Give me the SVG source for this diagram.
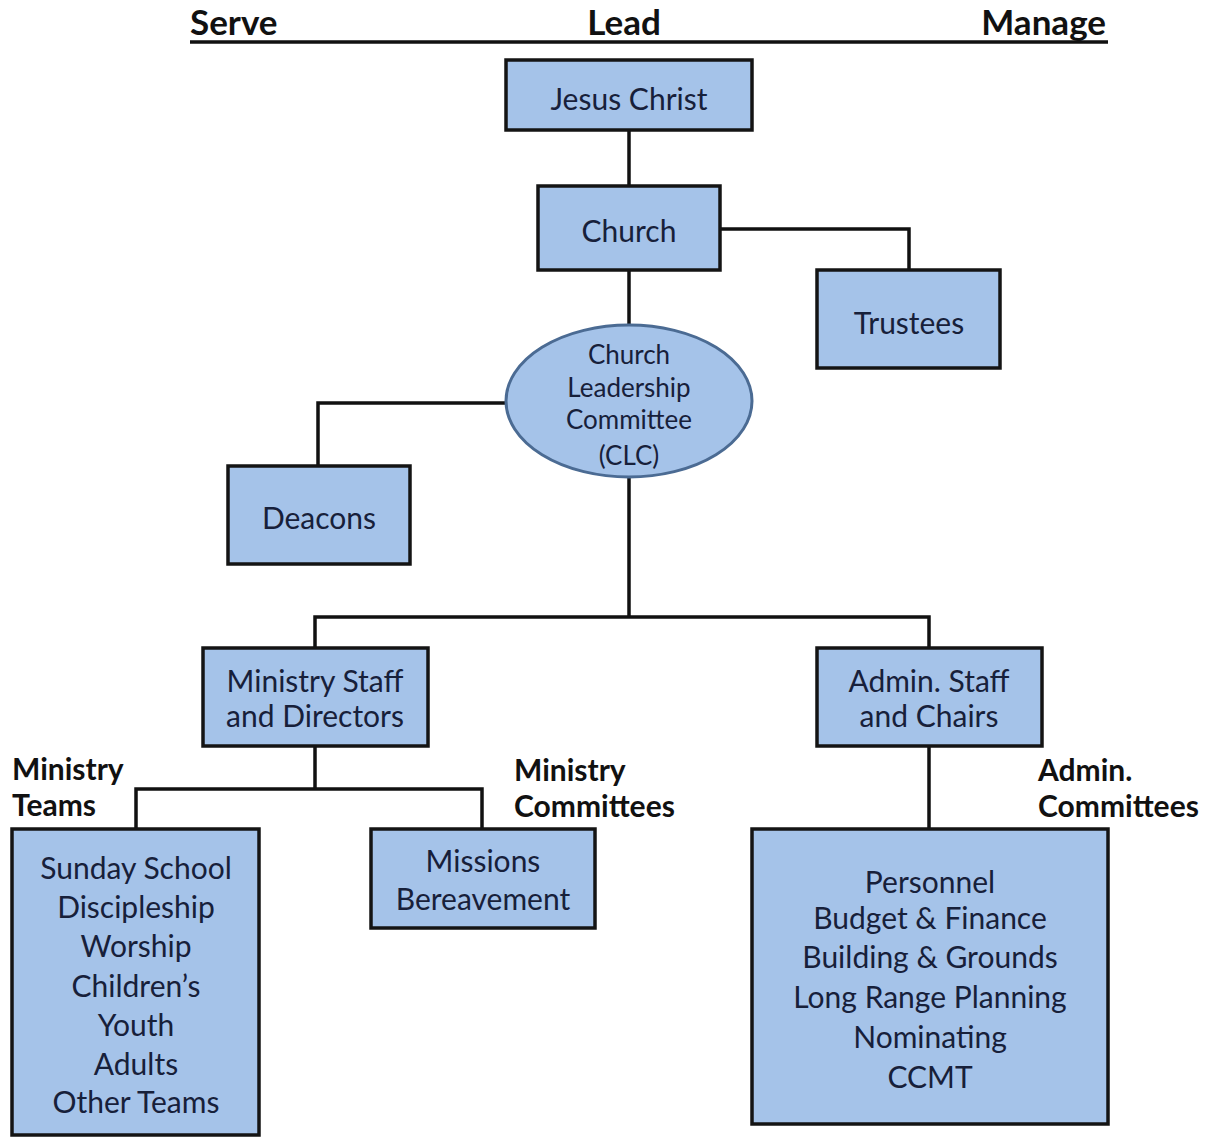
<svg xmlns="http://www.w3.org/2000/svg" width="1211" height="1137" viewBox="0 0 1211 1137">
<style>
.box{fill:#a5c3e9;stroke:#141414;stroke-width:3.5}
.ell{fill:#a5c3e9;stroke:#4b6b93;stroke-width:3}
.t{font-family:Lato,"Open Sans",sans-serif;font-size:30px;fill:#17203a;text-anchor:middle}
.s{font-size:26px}
.h{font-family:Lato,"Open Sans",sans-serif;font-size:35px;font-weight:bold;fill:#111}
.l{font-family:Lato,"Open Sans",sans-serif;font-size:30px;font-weight:bold;fill:#111}
.c{fill:none;stroke:#111;stroke-width:3.5}
</style>
<rect width="1211" height="1137" fill="#fff"/>
<g id="header">
<line x1="190" y1="42" x2="1108" y2="42" stroke="#111" stroke-width="3.5"/>
<text class="h" x="190" y="35">Serve</text>
<text class="h" x="624" y="35" text-anchor="middle">Lead</text>
<text class="h" x="1106" y="35" text-anchor="end">Manage</text>
</g>
<g id="connectors">
<path class="c" d="M629 130V186"/>
<path class="c" d="M720 229H909V270"/>
<path class="c" d="M629 270V325"/>
<path class="c" d="M505 403H318V466"/>
<path class="c" d="M629 478V617M315 648V617H929V648"/>
<path class="c" d="M315 746V789M136 829V789H482V829"/>
<path class="c" d="M929 746V829"/>
</g>
<g id="jesus"><rect class="box" x="506" y="60" width="246" height="70"/><text class="t" x="629" y="110">Jesus Christ</text></g>
<g id="church"><rect class="box" x="538" y="186" width="182" height="84"/><text class="t" x="629" y="242">Church</text></g>
<g id="trustees"><rect class="box" x="817" y="270" width="183" height="98"/><text class="t" x="909" y="334">Trustees</text></g>
<g id="clc"><ellipse class="ell" cx="629" cy="401" rx="123" ry="76"/>
<text class="t s" x="629" y="364">Church</text>
<text class="t s" x="629" y="397">Leadership</text>
<text class="t s" x="629" y="429">Committee</text>
<text class="t s" x="629" y="465">(CLC)</text></g>
<g id="deacons"><rect class="box" x="228" y="466" width="182" height="98"/><text class="t" x="319" y="529">Deacons</text></g>
<g id="ministry-staff"><rect class="box" x="203" y="648" width="225" height="98"/><text class="t" x="315" y="692">Ministry Staff</text><text class="t" x="315" y="727">and Directors</text></g>
<g id="admin-staff"><rect class="box" x="817" y="648" width="225" height="98"/><text class="t" x="929" y="692">Admin. Staff</text><text class="t" x="929" y="727">and Chairs</text></g>
<g id="labels">
<text class="l" x="12" y="780">Ministry</text>
<text class="l" x="12" y="816">Teams</text>
<text class="l" x="514" y="781">Ministry</text>
<text class="l" x="514" y="817">Committees</text>
<text class="l" x="1038" y="781">Admin.</text>
<text class="l" x="1038" y="817">Committees</text>
</g>
<g id="ministry-teams"><rect class="box" x="12" y="829" width="247" height="306"/>
<text class="t" x="136" y="879">Sunday School</text>
<text class="t" x="136" y="918">Discipleship</text>
<text class="t" x="136" y="957">Worship</text>
<text class="t" x="136" y="997">Children’s</text>
<text class="t" x="136" y="1036">Youth</text>
<text class="t" x="136" y="1075">Adults</text>
<text class="t" x="136" y="1113">Other Teams</text></g>
<g id="ministry-committees"><rect class="box" x="371" y="829" width="224" height="99"/>
<text class="t" x="483" y="872">Missions</text>
<text class="t" x="483" y="910">Bereavement</text></g>
<g id="admin-committees"><rect class="box" x="752" y="829" width="356" height="295"/>
<text class="t" x="930" y="893">Personnel</text>
<text class="t" x="930" y="929">Budget &amp; Finance</text>
<text class="t" x="930" y="968">Building &amp; Grounds</text>
<text class="t" x="930" y="1008">Long Range Planning</text>
<text class="t" x="930" y="1048">Nominating</text>
<text class="t" x="930" y="1088">CCMT</text></g>
</svg>
